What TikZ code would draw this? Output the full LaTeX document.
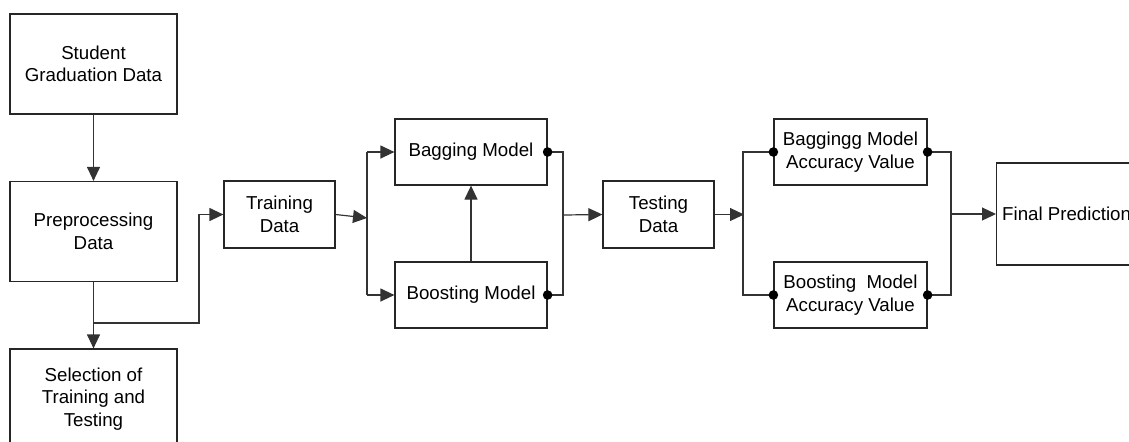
\documentclass[tikz,border=0pt]{standalone}
\usepackage{fontspec}
\setmainfont{Liberation Sans}
\usetikzlibrary{arrows.meta}
\begin{document}
\begin{tikzpicture}[x=0.5pt,y=-0.5pt,
  font=\fontsize{9.35}{11.25}\selectfont,
  box/.style={draw=black!85,line width=0.6pt,rectangle,inner sep=0pt,align=center},
  bigbox/.style={box,minimum width=83.5pt,minimum height=50pt},
  databox/.style={box,minimum width=55.5pt,minimum height=33.5pt},
  modelbox/.style={box,minimum width=76pt,minimum height=33pt},
  accbox/.style={box,minimum width=76.5pt,minimum height=33pt},
  link/.style={draw=black!80,line width=0.6pt},
  arr/.style={link,-{Triangle[length=7pt,width=6.5pt]}},
  dot/.style={circle,fill=black,inner sep=0pt,minimum size=4.8pt}]
\clip (0,0) rectangle (1129,441);

% process blocks
\node[bigbox] (stud) at (93.5,64) {Student\\Graduation Data};
\node[bigbox] (prep) at (93.5,231.5) {Preprocessing\\Data};
\node[bigbox] (sel) at (93.5,399) {Selection of\\Training and\\Testing};
\node[databox] (train) at (279.5,214.5) {Training\\Data};
\node[modelbox] (bag) at (471,152) {Bagging Model};
\node[modelbox] (boost) at (471,295) {Boosting Model};
\node[databox] (test) at (658.5,214.5) {Testing\\Data};
\node[accbox] (bagacc) at (850.5,152) {Baggingg Model\\Accuracy Value};
\node[accbox] (boostacc) at (850.5,295) {Boosting~~Model\\Accuracy Value};
\node[box,anchor=west,minimum width=70pt,minimum height=51pt] (final) at (996,214) {Final Prediction};

% junction points
\coordinate (split) at (93.5,323);
\coordinate (up) at (199,323);
\coordinate (j1) at (367,218);
\coordinate (j1t) at (367,152);
\coordinate (j1b) at (367,295);
\coordinate (m1t) at (563,152);
\coordinate (m1b) at (563,295);
\coordinate (m1) at (563,215);
\coordinate (j2) at (744,214.5);
\coordinate (j2t) at (743,152);
\coordinate (j2b) at (743,295);
\coordinate (m2t) at (951,152);
\coordinate (m2b) at (951,295);
\coordinate (m2) at (951,214);

% left column
\draw[arr] (stud) -- (prep);
\draw[arr] (prep) -- (sel);
\draw[arr] (split) -- (up) |- (train.west);

% training data into the two models
\draw[arr] (train.east) -- (j1);
\draw[link] (j1t) -- (j1b);
\draw[arr] (j1t) -- (bag.west);
\draw[arr] (j1b) -- (boost.west);
\draw[arr] (boost.north) -- (bag.south);

% models into testing data
\draw[link] (bag.east) -- (m1t) -- (m1b) -- (boost.east);
\draw[arr] (m1) -- (test.west);
\node[dot] at (bag.east) {};
\node[dot] at (boost.east) {};

% testing data into the accuracy values
\draw[arr] (test.east) -- (j2);
\draw[link] (bagacc.west) -- (j2t) -- (j2b) -- (boostacc.west);
\node[dot] at (bagacc.west) {};
\node[dot] at (boostacc.west) {};

% accuracy values into the final prediction
\draw[link] (bagacc.east) -- (m2t) -- (m2b) -- (boostacc.east);
\draw[arr] (m2) -- (final.west);
\node[dot] at (bagacc.east) {};
\node[dot] at (boostacc.east) {};
\end{tikzpicture}
\end{document}
